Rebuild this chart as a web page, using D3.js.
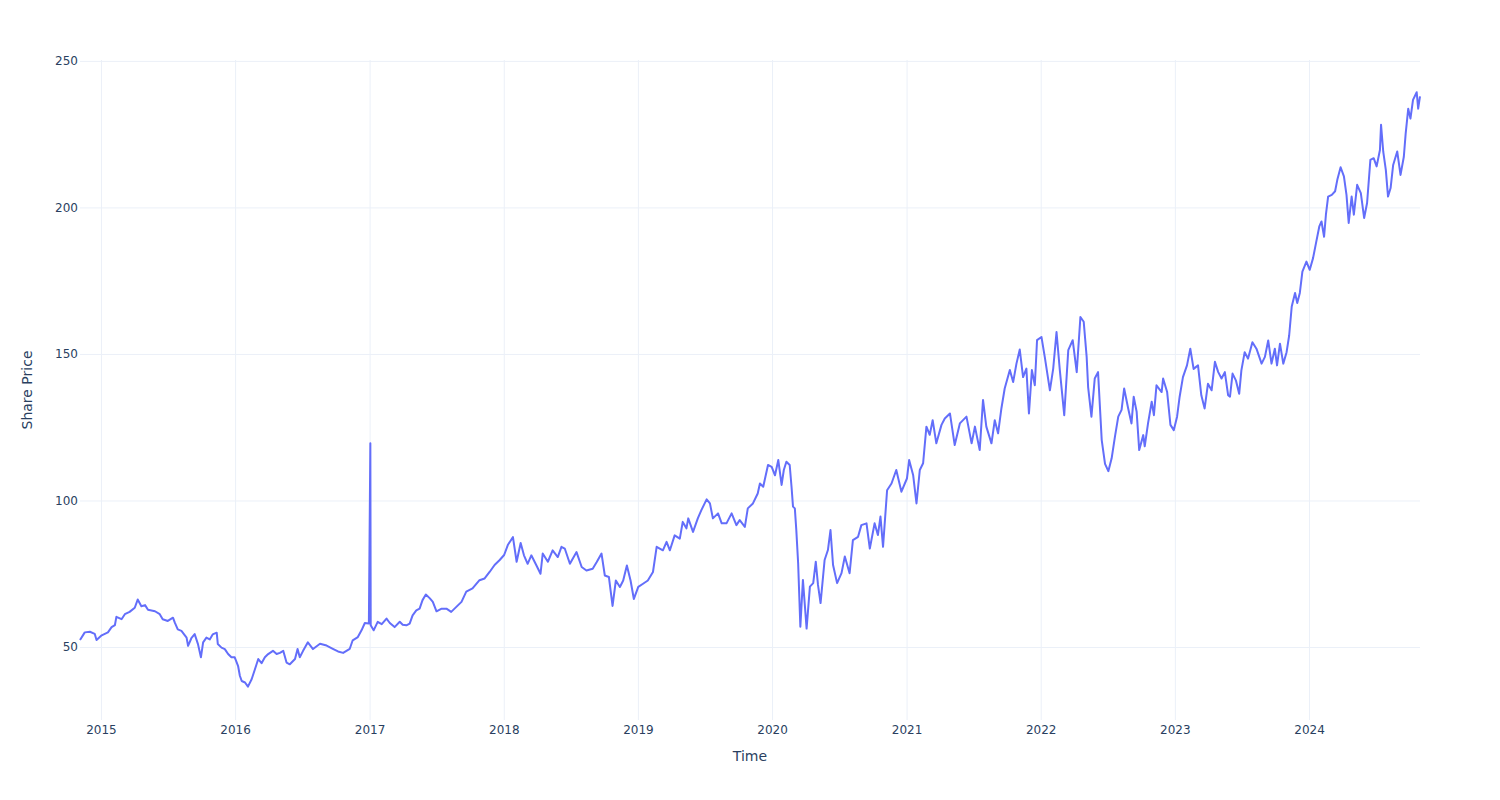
<!DOCTYPE html>
<html><head><meta charset="utf-8">
<script src="https://cdn.jsdelivr.net/npm/d3@7"></script>
<style>body{margin:0;background:#fff;} text{font-family:"DejaVu Sans",verdana,arial,sans-serif;}</style>
</head><body><svg id="chart" width="1500" height="800"></svg>
<script>
const dates = [
"2014-11-05","2014-11-18","2014-12-02","2014-12-15","2014-12-20",
"2015-01-03","2015-01-20","2015-01-30","2015-02-08","2015-02-12","2015-02-26","2015-03-07","2015-03-20","2015-04-03","2015-04-11","2015-04-21","2015-05-01","2015-05-09","2015-05-28","2015-06-10","2015-06-18","2015-07-02","2015-07-16","2015-07-21","2015-07-29","2015-08-08","2015-08-22","2015-08-26","2015-09-04","2015-09-13","2015-09-22","2015-09-30","2015-10-06","2015-10-15","2015-10-24","2015-11-01","2015-11-12","2015-11-15","2015-11-25","2015-12-04","2015-12-13","2015-12-22","2015-12-31",
"2016-01-09","2016-01-14","2016-01-19","2016-01-28","2016-02-05","2016-02-15","2016-02-24","2016-03-04","2016-03-13","2016-03-22","2016-03-31","2016-04-13","2016-04-23","2016-05-02","2016-05-11","2016-05-20","2016-05-29","2016-06-12","2016-06-19","2016-06-25","2016-07-04","2016-07-17","2016-07-31","2016-08-19","2016-09-06","2016-09-23","2016-10-07","2016-10-21","2016-11-08","2016-11-16","2016-11-30","2016-12-10","2016-12-19","2016-12-30",
"2017-01-03","2017-01-04","2017-01-12","2017-01-23","2017-02-03","2017-02-16","2017-02-25","2017-03-10","2017-03-24","2017-04-01","2017-04-11","2017-04-20","2017-04-28","2017-05-08","2017-05-17","2017-05-25","2017-06-03","2017-06-14","2017-06-22","2017-07-02","2017-07-16","2017-07-29","2017-08-11","2017-08-25","2017-09-08","2017-09-21","2017-10-08","2017-10-27","2017-11-10","2017-11-24","2017-12-07","2017-12-21",
"2018-01-02","2018-01-12","2018-01-26","2018-02-05","2018-02-16","2018-02-25","2018-03-07","2018-03-17","2018-03-31","2018-04-11","2018-04-17","2018-05-01","2018-05-14","2018-05-28","2018-06-07","2018-06-16","2018-06-30","2018-07-18","2018-08-01","2018-08-14","2018-08-31","2018-09-11","2018-09-24","2018-10-03","2018-10-14","2018-10-24","2018-11-02","2018-11-13","2018-11-22","2018-12-02","2018-12-12","2018-12-21",
"2019-01-02","2019-01-15","2019-01-28","2019-02-11","2019-02-21","2019-03-10","2019-03-20","2019-03-29","2019-04-11","2019-04-25","2019-05-03","2019-05-13","2019-05-18","2019-05-31","2019-06-13","2019-06-23","2019-07-07","2019-07-16","2019-07-24","2019-08-07","2019-08-17","2019-08-30","2019-09-13","2019-09-26","2019-10-05","2019-10-19","2019-10-27","2019-11-10","2019-11-23","2019-11-29","2019-12-08","2019-12-12","2019-12-21","2019-12-31",
"2020-01-09","2020-01-18","2020-01-27","2020-02-02","2020-02-09","2020-02-18","2020-02-23","2020-02-27","2020-03-03","2020-03-07","2020-03-12","2020-03-18","2020-03-25","2020-04-04","2020-04-13","2020-04-22","2020-04-29","2020-05-05","2020-05-12","2020-05-23","2020-06-01","2020-06-08","2020-06-15","2020-06-26","2020-07-08","2020-07-17","2020-07-30","2020-08-08","2020-08-22","2020-08-31","2020-09-14","2020-09-23","2020-10-06","2020-10-15","2020-10-22","2020-10-29","2020-11-09","2020-11-21","2020-12-04","2020-12-18",
"2021-01-02","2021-01-08","2021-01-19","2021-01-28","2021-02-06","2021-02-15","2021-02-24","2021-03-05","2021-03-13","2021-03-23","2021-04-06","2021-04-15","2021-04-29","2021-05-12","2021-05-26","2021-06-13","2021-06-27","2021-07-06","2021-07-19","2021-07-28","2021-08-06","2021-08-20","2021-08-29","2021-09-07","2021-09-16","2021-09-25","2021-10-09","2021-10-18","2021-10-27","2021-11-05","2021-11-14","2021-11-23","2021-11-30","2021-12-08","2021-12-16","2021-12-22",
"2022-01-03","2022-01-12","2022-01-26","2022-02-04","2022-02-13","2022-02-22","2022-03-06","2022-03-17","2022-03-29","2022-04-09","2022-04-19","2022-04-28","2022-05-06","2022-05-10","2022-05-19","2022-05-28","2022-06-06","2022-06-16","2022-06-25","2022-07-04","2022-07-13","2022-07-22","2022-07-31","2022-08-09","2022-08-16","2022-08-27","2022-09-05","2022-09-11","2022-09-19","2022-09-26","2022-10-07","2022-10-11","2022-10-20","2022-10-30","2022-11-05","2022-11-12","2022-11-26","2022-11-30","2022-12-11","2022-12-20","2022-12-29",
"2023-01-07","2023-01-14","2023-01-23","2023-02-03","2023-02-12","2023-02-21","2023-03-05","2023-03-14","2023-03-23","2023-04-01","2023-04-11","2023-04-20","2023-04-29","2023-05-08","2023-05-17","2023-05-26","2023-05-31","2023-06-07","2023-06-16","2023-06-25","2023-07-01","2023-07-10","2023-07-19","2023-07-31","2023-08-11","2023-08-25","2023-09-03","2023-09-12","2023-09-21","2023-09-30","2023-10-06","2023-10-14","2023-10-23","2023-11-01","2023-11-08","2023-11-15","2023-11-24","2023-11-30","2023-12-07","2023-12-14","2023-12-25",
"2024-01-03","2024-01-12","2024-01-20","2024-01-29","2024-02-04","2024-02-11","2024-02-16","2024-02-22","2024-03-03","2024-03-12","2024-03-18","2024-03-27","2024-04-05","2024-04-12","2024-04-18","2024-04-26","2024-05-02","2024-05-11","2024-05-21","2024-05-30","2024-06-07","2024-06-16","2024-06-25","2024-07-03","2024-07-12","2024-07-15","2024-07-21","2024-07-28","2024-08-03","2024-08-10","2024-08-17","2024-08-28","2024-09-06","2024-09-15","2024-09-20","2024-09-27","2024-10-03","2024-10-10","2024-10-20","2024-10-24","2024-10-29"
];
const prices = [
52.4,55.0,55.2,54.5,52.4,
54.0,55.0,56.8,57.5,60.3,59.5,61.2,62.0,63.4,66.2,63.9,64.3,62.7,62.2,61.2,59.5,58.9,60.0,58.3,56.0,55.5,53.2,50.4,53.0,54.4,51.0,46.5,51.6,53.2,52.6,54.3,54.9,51.0,49.8,49.3,47.6,46.5,46.5,
43.6,40.2,38.4,37.9,36.5,39.0,42.4,45.9,44.5,46.5,47.6,48.7,47.6,48.0,48.7,44.7,44.1,45.9,49.3,46.5,48.7,51.6,49.3,51.1,50.5,49.4,48.5,48.0,49.4,52.3,53.4,55.7,58.2,58.0,
119.5,57.4,55.7,58.6,57.8,59.7,58.2,56.8,58.6,57.6,57.4,58.0,60.8,62.5,63.1,66.0,67.9,66.6,65.4,62.2,63.1,63.1,62.0,63.7,65.4,68.9,70.0,72.8,73.4,75.7,78.0,79.7,
81.4,84.8,87.5,79.1,85.5,81.3,78.4,81.3,77.8,75.0,81.9,79.1,83.0,80.7,84.2,83.6,78.4,82.4,77.3,76.1,76.7,79.0,81.9,74.4,73.9,64.0,72.7,70.5,72.7,77.8,72.7,66.4,
70.5,71.6,72.7,75.6,84.2,83.0,85.9,83.0,88.1,87.0,92.7,90.5,93.9,89.3,93.9,96.8,100.4,99.0,93.9,95.6,92.2,92.2,95.6,91.6,93.3,91.0,97.3,99.0,102.4,105.8,104.7,107.0,112.1,111.5,
108.6,113.8,105.3,110.4,113.2,112.1,104.7,97.9,97.3,89.9,78.6,56.9,72.9,56.3,70.6,71.8,79.1,71.2,65.0,79.7,83.1,89.9,78.0,71.8,75.2,80.9,75.2,86.5,87.6,91.6,92.2,83.6,92.2,88.2,94.5,84.2,103.5,105.8,110.4,103.0,
107.5,113.8,108.6,99.0,110.4,112.7,125.2,122.4,127.4,119.5,125.8,128.0,129.7,118.9,126.3,128.6,119.5,125.2,117.2,134.3,125.2,119.5,127.4,122.9,131.4,138.2,144.5,140.4,146.7,151.5,142.1,145.0,129.7,144.5,139.3,154.7,
155.8,149.0,137.6,145.0,157.5,144.5,129.1,151.3,154.7,143.8,162.6,161.0,149.0,138.7,128.6,141.6,143.8,120.6,112.5,110.0,114.4,121.8,128.6,130.9,138.2,131.4,126.3,135.4,130.3,117.2,122.3,118.5,126.3,133.7,129.1,139.3,137.0,141.6,137.0,125.8,124.0,
128.6,135.4,142.1,146.1,151.8,144.9,146.1,135.9,131.4,139.8,137.6,147.3,143.8,141.6,143.8,135.9,135.4,143.3,141.0,136.4,144.4,150.6,148.4,154.0,151.8,146.7,149.0,154.6,146.7,151.8,146.1,153.5,146.7,150.6,156.3,166.2,170.8,167.4,170.8,178.1,181.5,
178.7,182.7,187.8,193.5,195.2,190.0,197.5,203.7,204.3,205.5,209.4,213.7,210.6,204.3,194.7,203.7,197.5,207.7,204.9,196.4,201.5,216.2,216.8,214.0,219.6,228.2,219.0,212.8,203.7,206.6,214.5,219.1,211.1,217.3,225.2,233.7,230.3,236.7,239.3,233.7,237.9
];
const yTicks = [50, 100, 150, 200, 250];
const xTickYears = [2015, 2016, 2017, 2018, 2019, 2020, 2021, 2022, 2023, 2024];
const xTitle = "Time";
const yTitle = "Share Price";

const W = 1500, H = 800, m = {l: 80, r: 80, t: 60, b: 80};
const fontStack = '"DejaVu Sans", verdana, arial, sans-serif';
const parse = d3.utcParse("%Y-%m-%d");
const data = dates.map((d, i) => ({date: parse(d), value: prices[i]}));
const svg = d3.select("#chart");
const x = d3.scaleUtc().domain(d3.extent(data, d => d.date)).range([m.l, W - m.r]);
const y = d3.scaleLinear().domain([25.1, 250.3]).range([H - m.b, m.t]);
const textColor = "#2a3f5f", gridColor = "#ebf0f8";

const xAxis = svg.append("g").attr("transform", `translate(0,${H - m.b})`)
  .call(d3.axisBottom(x).tickValues(xTickYears.map(yr => new Date(Date.UTC(yr, 0, 1))))
    .tickFormat(d3.utcFormat("%Y")).tickSize(-(H - m.t - m.b)).tickPadding(5));
const yAxis = svg.append("g").attr("transform", `translate(${m.l},0)`)
  .call(d3.axisLeft(y).tickValues(yTicks).tickSize(-(W - m.l - m.r)).tickPadding(2));
[xAxis, yAxis].forEach(g => {
  g.select(".domain").remove();
  g.selectAll(".tick line").attr("stroke", gridColor).attr("stroke-width", 1);
  g.selectAll(".tick text").attr("fill", textColor).attr("font-size", 12)
    .style("font-family", fontStack);
});

svg.append("path").datum(data)
  .attr("fill", "none").attr("stroke", "#636efa").attr("stroke-width", 2)
  .attr("stroke-linejoin", "round")
  .attr("d", d3.line().x(d => x(d.date)).y(d => y(d.value)));

svg.append("text").attr("x", m.l + (W - m.l - m.r) / 2).attr("y", 761)
  .attr("text-anchor", "middle").attr("font-size", 14).attr("fill", textColor)
  .style("font-family", fontStack).text(xTitle);
svg.append("text").attr("transform", `translate(32,${m.t + (H - m.t - m.b) / 2}) rotate(-90)`)
  .attr("text-anchor", "middle").attr("font-size", 14).attr("fill", textColor)
  .style("font-family", fontStack).text(yTitle);
</script></body></html>
